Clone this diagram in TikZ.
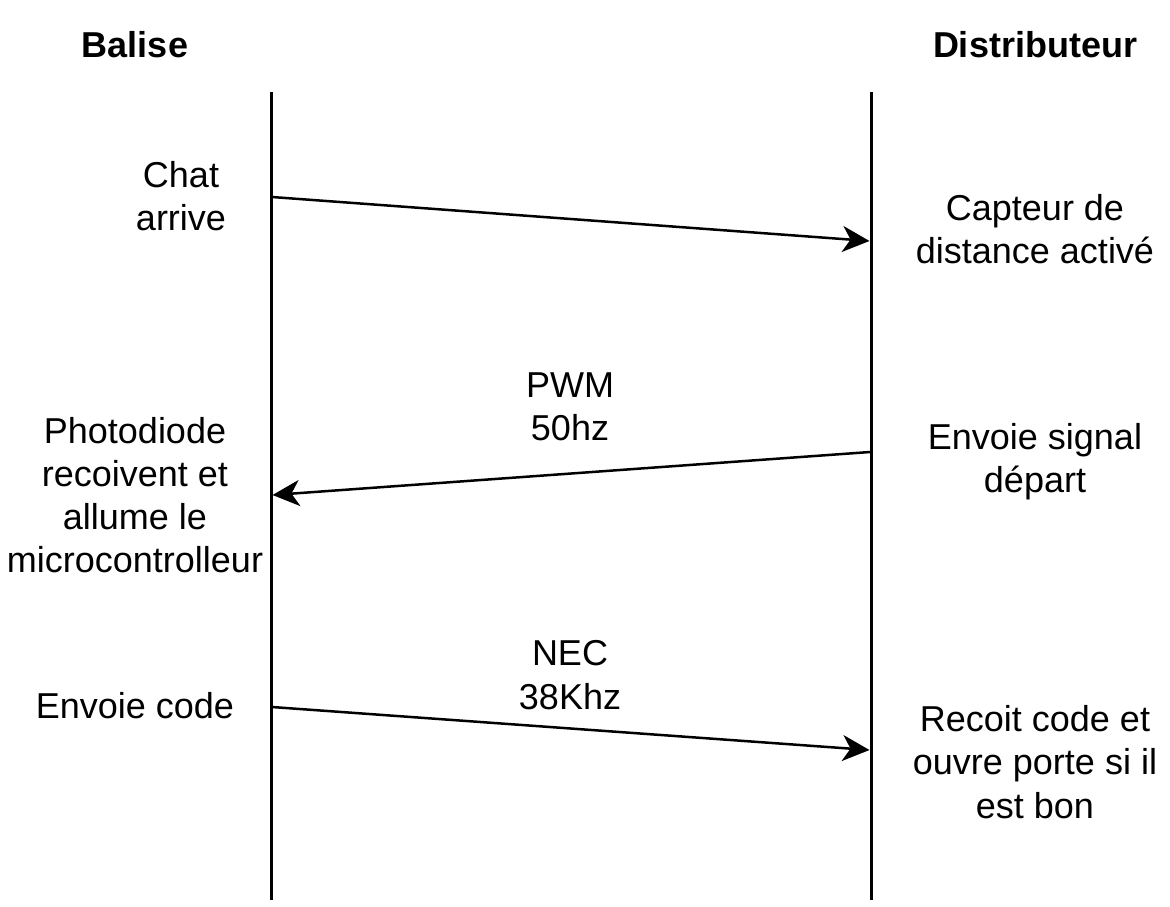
\documentclass[tikz,border=0pt]{standalone}
\usepackage{fontspec}
\setmainfont{Liberation Sans}
\usetikzlibrary{arrows.meta}
\tikzset{
  lifeline/.style={line width=3pt},
  message/.style={line width=2.5pt,-{Stealth[length=27pt,width=26pt,inset=8pt]}},
  txt/.style={align=center,inner sep=0pt,font=\fontsize{36}{43.2}\selectfont},
  actor/.style={txt,font=\fontsize{36}{43.2}\selectfont\bfseries}
}

\begin{document}
\begin{tikzpicture}[x=1pt,y=-1pt]
\useasboundingbox (0,0) rectangle (1170,906);
% acteurs
\node[actor] (balise) at (135,45) {Balise};
\node[actor] (distributeur) at (1035,45) {Distributeur};
% lignes de vie
\coordinate (balTop) at (271,92);
\coordinate (balBot) at (271,900);
\coordinate (disTop) at (871,92);
\coordinate (disBot) at (871,900);
\draw[lifeline] (balTop) -- (balBot);
\draw[lifeline] (disTop) -- (disBot);
% messages
\coordinate (chatOut) at (272,197);
\coordinate (capteurIn) at (869.5,241);
\coordinate (signalOut) at (870,452);
\coordinate (photoIn) at (272.5,495);
\coordinate (codeOut) at (272,707);
\coordinate (recoitIn) at (869.5,750);
\draw[message] (chatOut) -- (capteurIn);
\draw[message] (signalOut) -- (photoIn);
\draw[message] (codeOut) -- (recoitIn);
% textes
\node[txt] (chatArrive) at (181,196) {Chat\\arrive};
\node[txt] (capteur) at (1035,229) {Capteur de\\distance activé};
\node[txt] (pwm) at (570,407) {PWM\\50hz};
\node[txt] (envoieSignal) at (1035,462) {Envoie signal\\départ};
\node[txt] (photodiode) at (135,495) {Photodiode\\recoivent et\\allume le\\microcontrolleur};
\node[txt] (nec) at (570,675) {NEC\\38Khz};
\node[txt] (envoieCode) at (135,706) {Envoie code};
\node[txt] (recoitCode) at (1035,762) {Recoit code et\\ouvre porte si il\\est bon};
\end{tikzpicture}
\end{document}
